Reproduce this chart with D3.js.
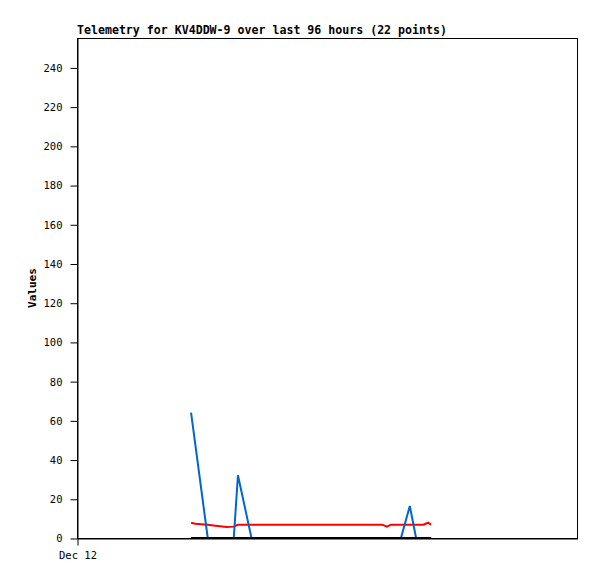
<!DOCTYPE html>
<html>
<head>
<meta charset="utf-8">
<script src="https://cdn.jsdelivr.net/npm/d3@7"></script>
<style>
  html, body { margin: 0; padding: 0; background: #fff; }
  svg { display: block; }
</style>
</head>
<body>
<div id="chart"></div>
<script>
// ---- data ----
const title = "Telemetry for KV4DDW-9 over last 96 hours (22 points)";
const yLabel = "Values";
const times = [
  "2023-12-12T21:54", "2023-12-12T22:42", "2023-12-13T01:06", "2023-12-13T02:36",
  "2023-12-13T04:42", "2023-12-13T06:06", "2023-12-13T06:54", "2023-12-13T09:30",
  "2023-12-13T14:00", "2023-12-13T19:00", "2023-12-14T00:00", "2023-12-14T05:00",
  "2023-12-14T07:30", "2023-12-14T10:36", "2023-12-14T11:30", "2023-12-14T12:18",
  "2023-12-14T14:12", "2023-12-14T15:54", "2023-12-14T17:06", "2023-12-14T18:30",
  "2023-12-14T19:24", "2023-12-14T20:00"
];
const redValues = [7.8, 7.3, 6.8, 6.3, 5.6, 5.8, 6.7, 6.8, 6.8, 6.8, 6.8, 6.8, 6.8, 6.8, 5.8, 6.8, 6.8, 6.8, 6.8, 6.8, 7.8, 6.8];
const blueValues = [64, 48, 0, 0, 0, 0, 32, 0, 0, 0, 0, 0, 0, 0, 0, 0, 0, 16.3, 0, 0, 0, 0];
const blackValues = [0, 0, 0, 0, 0, 0, 0, 0, 0, 0, 0, 0, 0, 0, 0, 0, 0, 0, 0, 0, 0, 0];
const xDomain = ["2023-12-12T00:00", "2023-12-16T00:00"];
const yDomain = [0, 255];
const yTicks = [0, 20, 40, 60, 80, 100, 120, 140, 160, 180, 200, 220, 240];
const xTickLabels = ["Dec 12"];

(function () {
// ---- layout ----
const W = 597, H = 579;
const mLeft = 77, mRight = 577, mTop = 38, mBottom = 538;

const parse = s => new Date(s);
const x = d3.scaleTime().domain(xDomain.map(parse)).range([mLeft, mRight]);
const y = d3.scaleLinear().domain(yDomain).range([mBottom, mTop]);

const svg = d3.select("#chart").append("svg").attr("width", W).attr("height", H);
svg.append("rect").attr("width", W).attr("height", H).attr("fill", "#fff");

const mono = "'DejaVu Sans Mono', 'Liberation Mono', monospace";

// frame
svg.append("rect")
  .attr("x", mLeft + 0.5).attr("y", mTop + 0.5)
  .attr("width", mRight - mLeft).attr("height", mBottom - mTop)
  .attr("fill", "none").attr("stroke", "#000").attr("stroke-width", 1);

// y axis
const yAxis = d3.axisLeft(y).tickValues(yTicks).tickSize(7).tickPadding(8).tickSizeOuter(0);
const gy = svg.append("g").attr("transform", `translate(${mLeft + 0.5},0.5)`).call(yAxis);
gy.select(".domain").attr("stroke", "#000");
gy.selectAll("line").attr("stroke", "#000");
gy.selectAll("text").attr("font-family", mono).attr("font-size", "10.5px").attr("fill", "#000");

// x axis
const xAxis = d3.axisBottom(x).tickValues([parse(xDomain[0])]).tickFormat((d, i) => xTickLabels[i]).tickSize(7).tickPadding(6).tickSizeOuter(0);
const gx = svg.append("g").attr("transform", `translate(0.5,${mBottom + 0.5})`).call(xAxis);
gx.select(".domain").attr("stroke", "#000");
gx.selectAll("line").attr("stroke", "#000");
gx.selectAll("text").attr("font-family", mono).attr("font-size", "10.5px").attr("fill", "#000");

// series
const line = vals => d3.line()
  .x((d, i) => x(parse(times[i])))
  .y(d => y(d))(vals);

svg.append("path").attr("d", line(redValues)).attr("fill", "none").attr("stroke", "#ff0000").attr("stroke-width", 2);
svg.append("path").attr("d", line(blueValues)).attr("fill", "none").attr("stroke", "#0066cc").attr("stroke-width", 2);
svg.append("path").attr("d", line(blackValues)).attr("fill", "none").attr("stroke", "#000").attr("stroke-width", 2);

// title
svg.append("text").attr("x", mLeft).attr("y", 34)
  .attr("font-family", mono).attr("font-weight", "bold").attr("font-size", "11.6px")
  .attr("fill", "#000").text(title);

// y label
svg.append("text")
  .attr("transform", `translate(36,${(mTop + mBottom) / 2}) rotate(-90)`)
  .attr("text-anchor", "middle")
  .attr("font-family", mono).attr("font-weight", "bold").attr("font-size", "11px")
  .attr("fill", "#000").text(yLabel);
})();
</script>
</body>
</html>
